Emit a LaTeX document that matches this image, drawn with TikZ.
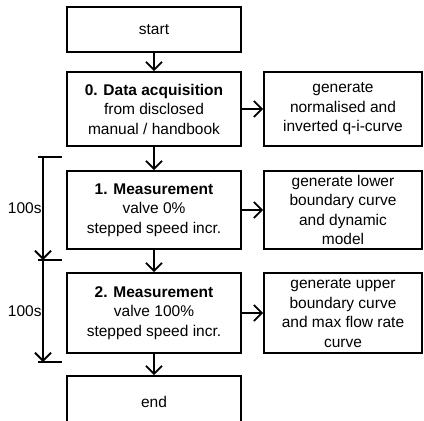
\documentclass[tikz,border=0pt]{standalone}
\usepackage{fontspec}
\setmainfont{Liberation Sans}
\usetikzlibrary{arrows.meta}
\begin{document}
\begin{tikzpicture}[x=1pt,y=-1pt,
  box/.style={draw, line width=1.8pt, inner sep=0pt, align=center,
    font=\fontsize{15.5}{19.5}\selectfont},
  mainbox/.style={box, minimum width=174pt},
  sidebox/.style={box, minimum width=158pt},
  conn/.style={line width=1.8pt, -{Straight Barb[length=8pt,width=16pt,line width=1.8pt]}},
  tick/.style={line width=1.8pt},
  lbl/.style={font=\fontsize{15.5}{19.5}\selectfont, inner sep=0pt, anchor=east}]
\useasboundingbox (0,0) rectangle (424,421);
\clip (0,0) rectangle (424,421);
\node[mainbox, minimum height=45pt] (start) at (154,29.5) {start};
\node[mainbox, minimum height=74pt] (acq) at (154,109) {\textbf{0. Data acquisition}\\from disclosed\\manual / handbook};
\node[mainbox, minimum height=78pt] (m1) at (154,210) {\textbf{1. Measurement}\\valve 0\%\\stepped speed incr.};
\node[mainbox, minimum height=80pt] (m2) at (154,313) {\textbf{2. Measurement}\\valve 100\%\\stepped speed incr.};
\node[mainbox, minimum height=52pt] (end) at (154,402) {end};
\node[sidebox, minimum height=74pt] (g0) at (343,109) {generate\\normalised and\\inverted q-i-curve};
\node[sidebox, minimum height=78pt] (g1) at (343,210) {generate lower\\boundary curve\\and dynamic\\model};
\node[sidebox, minimum height=80pt] (g2) at (343,313) {generate upper\\boundary curve\\and max flow rate\\curve};
\draw[conn] (start) -- (acq);
\draw[conn] (acq) -- (m1);
\draw[conn] (m1) -- (m2);
\draw[conn] (m2) -- (end);
\draw[conn] (acq) -- (g0);
\draw[conn] (m1) -- (g1);
\draw[conn] (m2) -- (g2);
\coordinate (t0) at (43,157);
\coordinate (t1) at (43,260);
\coordinate (t2) at (43,362);
\draw[tick] (38,157) -- (62,157);
\draw[tick] (38,260) -- (62,260);
\draw[tick] (38,362) -- (62,362);
\draw[conn] (t0) -- node[lbl, pos=0.5, xshift=-0.5pt] (l1) {100s} (t1);
\draw[conn] (t1) -- node[lbl, pos=0.5, xshift=-0.5pt] (l2) {100s} (t2);
\end{tikzpicture}
\end{document}
